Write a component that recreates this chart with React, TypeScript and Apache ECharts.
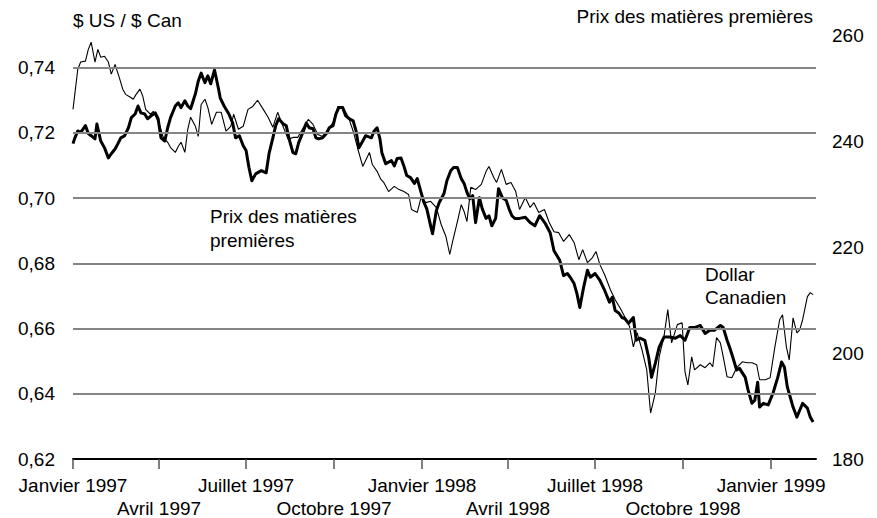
import React, { useEffect, useRef } from "react";
import * as echarts from "echarts";

// Days since 1 Jan 1997
const quarterTickDays = [0, 90, 181, 273, 365, 455, 546, 638, 730];
const quarterLabels = [
  "Janvier 1997", "Avril 1997", "Juillet 1997", "Octobre 1997",
  "Janvier 1998", "Avril 1998", "Juillet 1998", "Octobre 1998", "Janvier 1999",
];
const leftTicks = [0.62, 0.64, 0.66, 0.68, 0.7, 0.72, 0.74];
const gridValues = [0.64, 0.66, 0.68, 0.7, 0.72, 0.74];
const rightTicks = [180, 200, 220, 240, 260];

// Dollar canadien ($ US / $ Can), thin line, left axis
const dollarDays = [0,5,8,13,16,19,23,26,29,33,37,40,44,49,52,55,60,63,66,70,73,76,81,84,87,91,94,99,102,107,110,113,117,120,123,128,131,134,138,141,145,150,155,160,165,168,173,178,183,188,193,199,204,209,214,220,225,230,235,241,246,251,256,261,267,272,277,282,288,293,298,303,310,313,318,322,325,330,336,341,346,351,354,360,364,369,374,380,385,390,394,397,402,406,409,412,416,421,427,432,435,440,443,448,453,458,463,467,473,478,482,487,493,498,503,508,513,519,524,529,533,538,543,547,551,556,562,567,572,577,582,586,590,595,600,604,609,613,618,622,626,632,637,640,643,647,650,656,661,666,669,673,677,680,684,689,694,700,705,710,715,718,724,729,734,739,742,746,749,753,757,760,763,768,771,774];
const dollarValues = [0.7272,0.7395,0.7417,0.742,0.7456,0.7478,0.7417,0.7456,0.7432,0.7435,0.7417,0.738,0.741,0.7364,0.7334,0.7318,0.7309,0.7303,0.7318,0.7334,0.7312,0.7272,0.7257,0.7266,0.7248,0.722,0.7189,0.7171,0.7155,0.714,0.7158,0.7171,0.714,0.7211,0.7248,0.722,0.7189,0.7287,0.7303,0.7278,0.7226,0.7263,0.7263,0.7205,0.722,0.7257,0.7211,0.722,0.7272,0.7281,0.73,0.7272,0.7248,0.7217,0.7263,0.7217,0.718,0.7186,0.7186,0.7217,0.7241,0.7226,0.7195,0.7189,0.7211,0.7232,0.7281,0.7281,0.7248,0.7205,0.7149,0.7097,0.714,0.7103,0.7082,0.7057,0.7048,0.702,0.7036,0.7026,0.702,0.7011,0.6965,0.6956,0.7002,0.6986,0.699,0.6971,0.6919,0.6882,0.6827,0.6867,0.6928,0.698,0.6959,0.6928,0.7033,0.7026,0.7042,0.7082,0.7097,0.7063,0.7048,0.7088,0.7042,0.7048,0.702,0.6965,0.7002,0.6971,0.6986,0.6956,0.6965,0.6925,0.6897,0.6894,0.6867,0.6888,0.6864,0.6811,0.6842,0.6802,0.6817,0.6836,0.6796,0.6765,0.6719,0.6688,0.6664,0.6636,0.6606,0.6544,0.6587,0.6535,0.6473,0.6341,0.6403,0.6513,0.6575,0.6658,0.6556,0.6612,0.6618,0.6467,0.6427,0.6513,0.6473,0.6489,0.648,0.6495,0.6483,0.6572,0.6556,0.6513,0.6452,0.6449,0.648,0.6498,0.6495,0.6495,0.6489,0.6443,0.6443,0.6449,0.6544,0.6627,0.6642,0.6544,0.6504,0.6633,0.6587,0.6596,0.6627,0.6698,0.671,0.6704];

// Prix des matières premières, thick line, right axis
const commodityDays = [0,2,5,8,13,16,19,23,25,29,33,37,40,44,47,50,54,58,61,65,68,71,75,78,82,86,89,92,96,99,102,107,110,113,117,120,123,128,131,134,138,141,144,148,152,154,158,163,167,170,174,178,181,184,187,191,197,202,205,209,212,215,220,223,226,230,233,236,241,244,247,251,254,257,261,265,268,272,275,278,282,285,289,293,296,299,303,306,312,315,318,321,323,327,333,336,339,343,346,349,353,357,360,364,367,370,374,376,380,383,388,391,395,398,402,406,409,412,415,418,421,425,428,432,435,438,442,445,449,453,456,459,462,467,473,478,483,488,494,499,503,506,509,513,517,520,524,527,530,534,538,541,546,551,556,561,564,567,571,574,577,581,586,589,593,598,602,605,609,613,618,624,630,635,640,645,650,656,661,666,671,677,680,684,687,690,694,697,703,706,710,713,716,718,722,727,732,737,741,744,747,750,753,757,760,763,768,771,774];
const commodityValues = [239.5,240.6,241.9,241.6,242.9,241.4,241.0,240.4,243.2,240.0,238.7,236.8,237.6,238.5,239.5,240.6,241.0,242.5,244.4,245.1,246.6,245.3,245.1,244.2,244.8,245.3,244.2,240.6,240.0,242.5,244.4,246.6,247.2,246.3,247.6,246.6,246.1,248.9,251.3,252.8,251.0,252.3,250.8,253.4,250.0,248.1,246.6,245.1,243.4,240.6,241.0,239.1,238.2,235.0,232.5,233.8,234.4,234.0,237.6,240.6,242.9,244.2,243.2,242.9,240.4,237.8,237.6,239.7,241.9,243.4,242.5,242.3,240.6,240.4,240.6,241.4,242.5,242.9,245.1,246.3,246.3,244.8,244.2,243.8,241.9,238.7,240.0,241.0,240.6,241.9,242.5,240.4,237.8,235.7,236.3,235.3,236.7,236.8,235.3,233.5,233.1,232.0,232.9,230.3,228.4,227.2,224.0,222.5,226.9,228.4,230.1,232.5,234.4,235.0,235.0,232.9,232.0,230.3,229.1,229.7,224.6,229.3,227.2,225.4,225.9,224.0,225.4,231.0,229.3,228.8,227.2,225.9,225.4,225.4,225.6,224.6,224.0,225.9,224.4,222.7,219.3,218.4,217.5,214.6,215.0,214.3,213.1,211.2,208.6,212.4,215.6,214.3,215.0,213.7,211.8,209.6,210.5,208.0,207.5,206.7,206.5,205.6,206.7,202.4,202.8,202.4,199.2,195.4,198.1,201.1,203.0,203.0,202.8,203.3,202.4,204.8,204.8,205.2,203.7,204.3,204.3,205.2,204.8,202.4,200.9,199.2,196.8,197.1,195.4,193.0,190.5,191.1,194.5,189.8,190.5,190.2,192.4,195.4,198.3,197.3,193.6,191.7,189.8,187.9,189.2,190.5,189.6,187.9,187.0];

const FONT = "'Liberation Sans', Arial, Helvetica, sans-serif";
const FS = 19;

export default function App() {
  const ref = useRef<HTMLDivElement>(null);
  useEffect(() => {
    document.body.style.margin = "0";
    if (!ref.current) return;
    const chart = echarts.init(ref.current, undefined, { renderer: "svg" });
    const dollarData = dollarDays.map((d, i) => [d, dollarValues[i]]);
    const commodityData = commodityDays.map((d, i) => [d, commodityValues[i]]);
    const rowOneDays = quarterTickDays.filter((_, i) => i % 2 === 0);
    const rowTwoDays = quarterTickDays.filter((_, i) => i % 2 === 1);
    const labelFor = (v: number) => {
      const idx = quarterTickDays.indexOf(Math.round(v));
      return idx < 0 ? "" : quarterLabels[idx];
    };
    const xLabelBase = {
      formatter: labelFor,
      showMinLabel: true,
      showMaxLabel: true,
      hideOverlap: false,
      color: "#000",
      fontSize: FS,
      fontFamily: FONT,
      margin: 17,
    };
    chart.setOption({
      animation: false,
      backgroundColor: "#ffffff",
      textStyle: { fontFamily: FONT },
      grid: { left: 73, right: 61, top: 35, bottom: 59, containLabel: false },
      xAxis: [
        {
          type: "value",
          min: 0,
          max: 777,
          position: "bottom",
          axisLine: { show: true, lineStyle: { color: "#000", width: 2 } },
          axisTick: {
            show: true,
            length: 10,
            customValues: quarterTickDays,
            lineStyle: { color: "#555", width: 1.5 },
          },
          axisLabel: { ...xLabelBase, customValues: rowOneDays },
          splitLine: { show: false },
        },
        {
          type: "value",
          min: 0,
          max: 777,
          position: "bottom",
          offset: 23,
          axisLine: { show: false },
          axisTick: { show: false },
          axisLabel: { ...xLabelBase, customValues: rowTwoDays },
          splitLine: { show: false },
        },
      ],
      yAxis: [
        {
          type: "value",
          min: 0.62,
          max: 0.75,
          position: "left",
          axisLine: { show: false },
          axisTick: { show: false },
          splitLine: { show: false },
          axisLabel: {
            customValues: leftTicks,
            formatter: (v: number) => v.toFixed(2).replace(".", ","),
            color: "#000",
            fontSize: FS,
            fontFamily: FONT,
            margin: 18,
          },
        },
        {
          type: "value",
          min: 180,
          max: 260,
          interval: 20,
          position: "right",
          axisLine: { show: false },
          axisTick: { show: false },
          splitLine: { show: false },
          axisLabel: {
            customValues: rightTicks,
            color: "#000",
            fontSize: FS,
            fontFamily: FONT,
            margin: 16,
          },
        },
      ],
      series: [
        {
          type: "line",
          name: "grid",
          xAxisIndex: 0,
          yAxisIndex: 0,
          data: [[0, 0.62]],
          showSymbol: false,
          lineStyle: { opacity: 0 },
          silent: true,
          z: 1,
          markLine: {
            silent: true,
            symbol: "none",
            label: { show: false },
            lineStyle: { color: "#858585", width: 2, type: "solid" },
            data: gridValues.map((v) => ({ yAxis: v })),
          },
        },
        {
          type: "line",
          name: "Dollar Canadien",
          xAxisIndex: 0,
          yAxisIndex: 0,
          data: dollarData,
          showSymbol: false,
          lineStyle: { color: "#000", width: 1.1 },
          z: 3,
        },
        {
          type: "line",
          name: "Prix des matières premières",
          xAxisIndex: 0,
          yAxisIndex: 1,
          data: commodityData,
          showSymbol: false,
          lineStyle: { color: "#000", width: 3, join: "round" },
          z: 4,
        },
      ],
      graphic: [
        {
          type: "text",
          left: 73,
          top: 11,
          style: { text: "$ US / $ Can", fontSize: FS, fontFamily: FONT, fill: "#000" },
        },
        {
          type: "text",
          right: 64,
          top: 7,
          style: { text: "Prix des matières premières", fontSize: FS, fontFamily: FONT, fill: "#000" },
        },
        {
          type: "text",
          left: 210,
          top: 207,
          style: { text: "Prix des matières", fontSize: FS, fontFamily: FONT, fill: "#000" },
        },
        {
          type: "text",
          left: 210,
          top: 231,
          style: { text: "premières", fontSize: FS, fontFamily: FONT, fill: "#000" },
        },
        {
          type: "text",
          left: 705,
          top: 265,
          style: { text: "Dollar", fontSize: FS, fontFamily: FONT, fill: "#000" },
        },
        {
          type: "text",
          left: 705,
          top: 288,
          style: { text: "Canadien", fontSize: FS, fontFamily: FONT, fill: "#000" },
        },
      ],
    });
    return () => chart.dispose();
  }, []);
  return <div ref={ref} style={{ width: 877, height: 518 }} />;
}
